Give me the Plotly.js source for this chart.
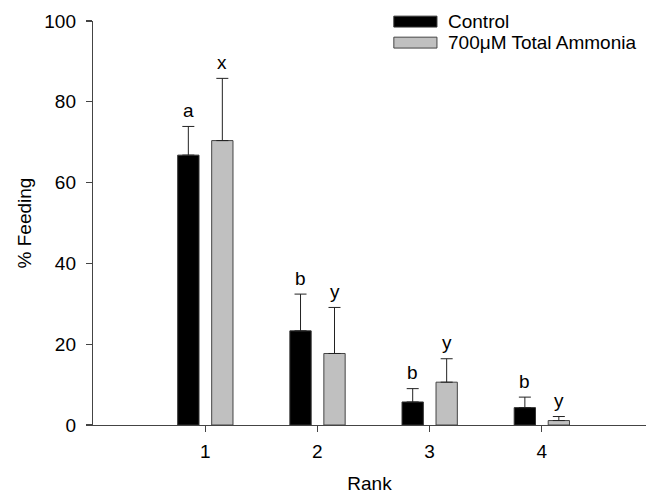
<!DOCTYPE html>
<html>
<head>
<meta charset="utf-8">
<script src="https://cdn.plot.ly/plotly-3.0.1.min.js"></script>
<style>html,body{margin:0;padding:0;background:#fff;}#chart{width:646px;height:494px;}</style>
</head>
<body>
<div id="chart"></div>
<script>
// ---- data ----
const ranks = [1, 2, 3, 4];
const seriesNames = ["Control", "700\u03bcM Total Ammonia"];
const controlMean = [66.8, 23.3, 5.7, 4.3];
const controlErr = [7.1, 9.1, 3.3, 2.6];
const ammoniaMean = [70.4, 17.7, 10.6, 1.1];
const ammoniaErr = [15.4, 11.4, 5.8, 1.0];
const controlLetters = ["a", "b", "b", "b"];
const ammoniaLetters = ["x", "y", "y", "y"];
const xTitle = "Rank";
const yTitle = "% Feeding";

// ---- style ----
const FONT = "Liberation Sans, Arial, sans-serif";
const FS = 19;
const BAR_W = 0.19;
const OFFSETS = [-0.245, 0.058];
const FILLS = ["#000000", "#c0c0c0"];
const OUTLINES = ["#333333", "#444444"];

const means = [controlMean, ammoniaMean];
const errs = [controlErr, ammoniaErr];
const letters = [controlLetters, ammoniaLetters];

const traces = means.map((m, i) => ({
  type: "bar",
  x: ranks,
  y: m,
  name: seriesNames[i],
  width: BAR_W,
  offset: OFFSETS[i],
  marker: {color: FILLS[i], line: {color: OUTLINES[i], width: 1}},
  error_y: {type: "data", symmetric: false, array: errs[i], arrayminus: m.map(() => 0),
            color: "#222", thickness: 1, width: 6},
  showlegend: false,
  hoverinfo: "skip"
}));

const annotations = [];
means.forEach((m, i) => {
  m.forEach((v, j) => {
    annotations.push({
      x: ranks[j] + OFFSETS[i] + BAR_W / 2, y: v + errs[i][j],
      xref: "x", yref: "y", text: letters[i][j], showarrow: false,
      yanchor: "middle", yshift: 16, font: {family: FONT, size: FS, color: "#000"}
    });
  });
});

// custom legend (wide swatches)
const shapes = [];
const legY = [[1.012, 0.985], [0.960, 0.933]];
seriesNames.forEach((n, i) => {
  shapes.push({type: "rect", xref: "paper", yref: "paper", x0: 0.544, x1: 0.622,
    y0: legY[i][1], y1: legY[i][0], fillcolor: FILLS[i], line: {color: OUTLINES[i], width: 1}});
  annotations.push({xref: "paper", yref: "paper", x: 0.638, y: (legY[i][0] + legY[i][1]) / 2,
    xanchor: "left", yanchor: "middle", text: n, showarrow: false,
    font: {family: FONT, size: FS, color: "#000"}});
});

const layout = {
  width: 646, height: 494,
  margin: {l: 93, r: 0, t: 21, b: 69},
  paper_bgcolor: "#fff", plot_bgcolor: "#fff",
  font: {family: FONT, size: FS, color: "#000"},
  xaxis: {
    range: [0, 4.93], tickvals: ranks, ticktext: ranks.map(String),
    showgrid: false, zeroline: false, showline: true, linecolor: "#444", linewidth: 1.2,
    ticks: "outside", ticklen: 6, tickcolor: "#444", tickwidth: 1.2,
    ticklabelstandoff: 3,
    title: {text: xTitle, font: {family: FONT, size: FS}, standoff: 23}
  },
  yaxis: {
    range: [0, 100], tickvals: [0, 20, 40, 60, 80, 100],
    showgrid: false, zeroline: false, showline: true, linecolor: "#444", linewidth: 1.2,
    ticks: "outside", ticklen: 6, tickcolor: "#444", tickwidth: 1.2,
    ticklabelstandoff: 6,
    title: {text: yTitle, font: {family: FONT, size: FS}, standoff: 7}
  },
  shapes: shapes,
  annotations: annotations
};

Plotly.newPlot("chart", traces, layout, {staticPlot: true, displayModeBar: false});
</script>
</body>
</html>
